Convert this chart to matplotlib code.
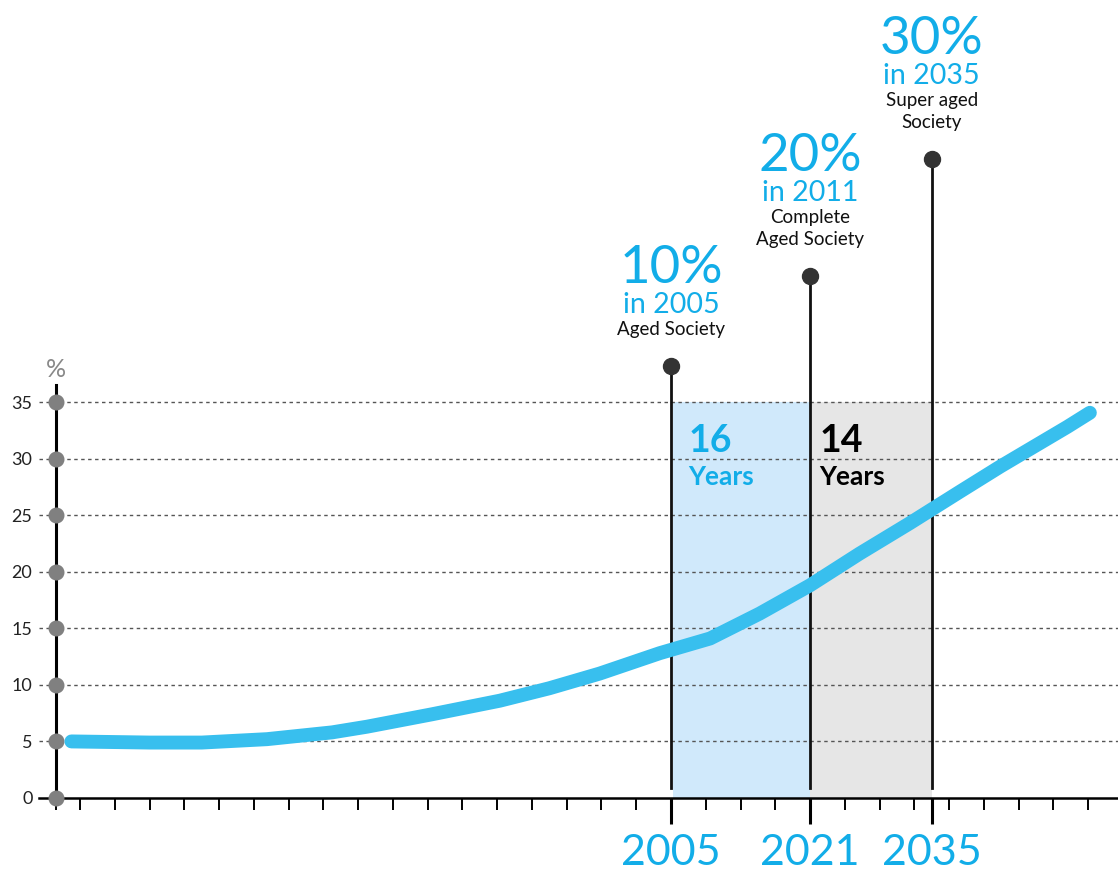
import numpy as np
import matplotlib
matplotlib.use("Agg")
import matplotlib.pyplot as plt

plt.rcParams['font.family'] = ['Lato', 'DejaVu Sans']

# Share of population aged 65+ (%)
years = [1936, 1945, 1951, 1958.5, 1966, 1970, 1977.5, 1985.3, 1991, 1996.8, 2001.4,
         2003.7, 2009.5, 2015.2, 2021, 2026.7, 2032.5, 2038.3, 2042.9, 2050.6, 2053.2]
share = [5.0, 4.9, 4.9, 5.2, 5.8, 6.3, 7.4, 8.6, 9.7, 11.0, 12.2,
         12.8, 14.1, 16.3, 18.8, 21.6, 24.3, 27.1, 29.3, 32.8, 34.05]

# milestones
ms_years = [2005, 2021, 2035]
ms_pct = ['10%', '20%', '30%']
ms_when = ['in 2005', 'in 2011', 'in 2035']
ms_desc = [['Aged Society'], ['Complete', 'Aged Society'], ['Super aged', 'Society']]
ms_top = [38.2, 46.1, 56.5]

spans = [(2005, 2021, '16'), (2021, 2035, '14')]

yticks = [0, 5, 10, 15, 20, 25, 30, 35]
minor_x = list(range(1937, 2054, 4))

BLUE = '#12ade8'
LINE = '#38bfee'

fig = plt.figure(figsize=(11.18, 8.73), dpi=100)
ax = fig.add_axes([39 / 1118, 75 / 873, 1079 / 1118, 413 / 873])

x_left = 2005 - (671 - 39) / 8.69
x_right = x_left + 1079 / 8.69
y_axis_x = 2005 - (671 - 56) / 8.69
ax.set_xlim(x_left, x_right)
ax.set_ylim(0, 413 / 11.314)

# shaded periods
ax.fill_between([2005.2, 2021], 0, 35, color='#d0e9fb', lw=0, zorder=0)
ax.fill_between([2021, 2035], 0, 35, color='#e6e6e6', lw=0, zorder=0)

# grid
for v in yticks[1:]:
    ax.axhline(v, color='#555555', lw=1, ls=(0, (2.5, 2.5)), zorder=1)

# spines
for s in ['top', 'right']:
    ax.spines[s].set_visible(False)
ax.spines['left'].set_position(('data', y_axis_x))
ax.spines['left'].set_linewidth(2.2)
ax.spines['bottom'].set_linewidth(1.8)
ax.spines['left'].set_zorder(3)

# y ticks
ax.set_yticks(yticks)
ax.set_yticklabels([str(v) for v in yticks])
ax.tick_params(axis='y', length=0, pad=17, labelsize=13, labelcolor='#222222')
ax.plot([y_axis_x] * len(yticks), yticks, 'o', color='#808080', ms=10.5,
        clip_on=False, zorder=4)
ax.text(y_axis_x, 37.9, '%', ha='center', va='center', fontsize=18, color='#888888')

# x ticks
ax.set_xticks(ms_years)
ax.set_xticklabels([str(y) for y in ms_years])
ax.set_xticks([y_axis_x] + minor_x, minor=True)
ax.tick_params(axis='x', which='major', length=19, width=2.2, pad=7,
               labelsize=31, labelcolor=BLUE, direction='out')
ax.tick_params(axis='x', which='minor', length=8.5, width=1.4, direction='out')

# milestone stems
for yr, top, pct, when, desc in zip(ms_years, ms_top, ms_pct, ms_when, ms_desc):
    ax.plot([yr, yr], [0.9, top], color='#111111', lw=2, clip_on=False, zorder=2)
    ax.plot(yr, top, 'o', color='#333333', ms=11.5, clip_on=False, zorder=5)
    off = 31
    for line in reversed(desc):
        ax.annotate(line, (yr, top), xytext=(0, off * 0.72), textcoords='offset points',
                    ha='center', va='baseline', fontsize=13.5, color='#111111',
                    annotation_clip=False)
        off += 22
    ax.annotate(when, (yr, top), xytext=(0, off * 0.72), textcoords='offset points',
                ha='center', va='baseline', fontsize=20.5, color=BLUE,
                annotation_clip=False)
    off += 30
    ax.annotate(pct, (yr, top), xytext=(0, off * 0.72), textcoords='offset points',
                ha='center', va='baseline', fontsize=38, color=BLUE,
                annotation_clip=False)

# period labels
for (a, b, n), col, dx in zip(spans, [BLUE, '#000000'], [2.0, 1.1]):
    ax.text(a + dx, 30.6, n, ha='left', va='baseline', fontsize=27,
            fontweight='bold', color=col)
    ax.text(a + dx, 27.7, 'Years', ha='left', va='baseline', fontsize=19,
            fontweight='bold', color=col)

# curve
ax.plot(years, share, color=LINE, lw=10, solid_capstyle='round',
        solid_joinstyle='round', zorder=6)

fig.savefig('out.png', dpi=100)
